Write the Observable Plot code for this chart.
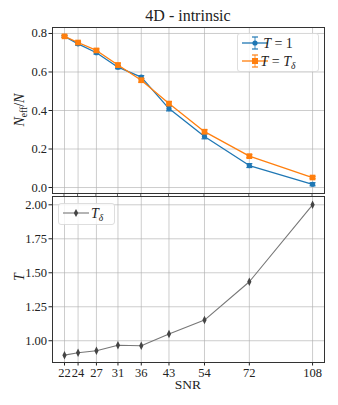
<!DOCTYPE html>
<html>
<head>
<meta charset="utf-8">
<script src="https://cdn.jsdelivr.net/npm/d3@7"></script>
<script src="https://cdn.jsdelivr.net/npm/@observablehq/plot@0.6"></script>
<style>
  html, body { margin: 0; padding: 0; background: white; }
  #wrap { position: relative; width: 338px; height: 405px; }
  #title { position: absolute; left: 52px; width: 272px; top: 7px; text-align: center; font-size: 16px; color: #222; font-family: 'Liberation Serif', serif; }
  .panel { position: absolute; left: 0; }
  svg text { font-family: 'Liberation Serif', serif; }
</style>
</head>
<body>
<div id="wrap">
  <div id="title">4D - intrinsic</div>
  <div id="top" class="panel" style="top:0px"></div>
  <div id="bot" class="panel" style="top:195px"></div>
</div>
<script>
const snr = [22, 24, 27, 31, 36, 43, 54, 72, 108];
const neffT1 = [0.785, 0.746, 0.700, 0.625, 0.573, 0.410, 0.265, 0.114, 0.017];
const errT1 = [0.005, 0.007, 0.007, 0.008, 0.008, 0.012, 0.012, 0.010, 0.008];
const neffTd = [0.785, 0.753, 0.712, 0.636, 0.557, 0.436, 0.290, 0.163, 0.052];
const errTd = [0.005, 0.006, 0.008, 0.010, 0.010, 0.010, 0.010, 0.008, 0.006];
const tDelta = [0.894, 0.912, 0.926, 0.967, 0.963, 1.049, 1.152, 1.434, 2.000];
const yTicksTop = [0.0, 0.2, 0.4, 0.6, 0.8];
const yTicksBot = [1.00, 1.25, 1.50, 1.75, 2.00];

const blue = "#1f77b4", orange = "#ff7f0e";
const font = "'Liberation Serif', serif";
const xDomain = [20.37, 116.6];

const s1 = snr.map((x, i) => ({x, y: neffT1[i], e: errT1[i]}));
const s2 = snr.map((x, i) => ({x, y: neffTd[i], e: errTd[i]}));
const s3 = snr.map((x, i) => ({x, y: tDelta[i]}));

const grid = "#b0b0b0";

function caps(data, color) {
  const out = [];
  for (const sign of [-1, 1]) {
    out.push(Plot.dot(data, {x: "x", y: d => d.y + sign * d.e, symbol: {draw(ctx, size){ ctx.moveTo(-3,0); ctx.lineTo(3,0);} }, r: 3, stroke: color, strokeWidth: 1.2, fill: "none"}));
  }
  return out;
}

const topPlot = Plot.plot({
  width: 338, height: 196,
  marginLeft: 52, marginRight: 14, marginTop: 27, marginBottom: 3,
  style: {fontFamily: font, fontSize: "12.5px", background: "transparent", color: "#222"},
  x: {type: "log", domain: xDomain, axis: null},
  y: {domain: [-0.031, 0.831], ticks: yTicksTop, tickFormat: d3.format(".1f"), tickSize: 3.5, tickPadding: 2, label: null},
  marks: [
    Plot.ruleX(snr, {stroke: grid, strokeWidth: 0.8, strokeOpacity: 0.8}),
    Plot.ruleY(yTicksTop, {stroke: grid, strokeWidth: 0.8, strokeOpacity: 0.8}),
    Plot.tickX(snr, {x: d => d, stroke: "#333", strokeWidth: 0.8, render(i, s, v, d) {
      const g = d3.create("svg:g");
      for (const k of i) {
        const px = s.x(v.channels.x.value[k]);
        g.append("line").attr("x1", px).attr("x2", px).attr("y1", d.height - d.marginBottom).attr("y2", d.height).attr("stroke", "#333").attr("stroke-width", 0.8);
      }
      return g.node();
    }}),
    Plot.line(s1, {x: "x", y: "y", stroke: blue, strokeWidth: 1.3}),
    Plot.ruleX(s1, {x: "x", y1: d => d.y - d.e, y2: d => d.y + d.e, stroke: blue, strokeOpacity: 0.7, strokeWidth: 1.2}),
    ...caps(s1, blue),
    Plot.dot(s1, {x: "x", y: "y", r: 2.6, fill: blue, symbol: "circle"}),
    Plot.line(s2, {x: "x", y: "y", stroke: orange, strokeWidth: 1.3}),
    Plot.ruleX(s2, {x: "x", y1: d => d.y - d.e, y2: d => d.y + d.e, stroke: orange, strokeOpacity: 0.7, strokeWidth: 1.2}),
    ...caps(s2, orange),
    Plot.dot(s2, {x: "x", y: "y", r: 3.2, fill: orange, symbol: "square"}),
    Plot.frame({stroke: "#333", strokeWidth: 1})
  ]
});

const botPlot = Plot.plot({
  width: 338, height: 210,
  marginLeft: 52, marginRight: 14, marginTop: 1, marginBottom: 43,
  style: {fontFamily: font, fontSize: "12.5px", background: "transparent", color: "#222"},
  x: {type: "log", domain: xDomain, ticks: snr, tickFormat: d => String(d), tickSize: 3.5, tickPadding: 2, label: null},
  y: {domain: [0.84, 2.061], ticks: yTicksBot, tickFormat: d3.format(".2f"), tickSize: 3.5, tickPadding: 2, label: null},
  marks: [
    Plot.ruleX(snr, {stroke: grid, strokeWidth: 0.8, strokeOpacity: 0.8}),
    Plot.ruleY(yTicksBot, {stroke: grid, strokeWidth: 0.8, strokeOpacity: 0.8}),
    Plot.line(s3, {x: "x", y: "y", stroke: "#777", strokeWidth: 1.1}),
    Plot.dot(s3, {x: "x", y: "y", r: 2.6, fill: "#444", symbol: {draw(ctx, size){ const r = Math.sqrt(size)/1.3; ctx.moveTo(0,-r*1.2); ctx.lineTo(r*0.6,0); ctx.lineTo(0,r*1.2); ctx.lineTo(-r*0.6,0); ctx.closePath(); }}}),
    Plot.frame({stroke: "#333", strokeWidth: 1})
  ]
});

document.getElementById("top").appendChild(topPlot);
document.getElementById("bot").appendChild(botPlot);

// axis labels
const ts = d3.select(topPlot);
const yl = ts.append("text").attr("transform", "translate(24,110) rotate(-90)")
  .attr("text-anchor", "middle").attr("font-size", 14).attr("fill", "#222");
yl.append("tspan").attr("font-style", "italic").text("N");
yl.append("tspan").attr("font-size", 9.5).attr("dy", 3).text("eff");
yl.append("tspan").attr("dy", -3).text("/");
yl.append("tspan").attr("font-style", "italic").text("N");

const bs = d3.select(botPlot);
bs.append("text").attr("transform", "translate(24,82) rotate(-90)")
  .attr("text-anchor", "middle").attr("font-size", 14).attr("font-style", "italic").attr("fill", "#222").text("T");
bs.append("text").attr("x", 188).attr("y", 194).attr("text-anchor", "middle")
  .attr("font-size", 13.5).attr("fill", "#222").text("SNR");

// legends
function legendBox(sel, x, y, w, h) {
  sel.append("rect").attr("x", x).attr("y", y).attr("width", w).attr("height", h).attr("rx", 2.5)
    .attr("fill", "white").attr("fill-opacity", 0.8).attr("stroke", "#d5d5d5").attr("stroke-width", 0.8);
}
legendBox(ts, 237.5, 33.5, 81, 38);
function errEntry(sel, y, color, square) {
  sel.append("line").attr("x1", 242).attr("x2", 268).attr("y1", y).attr("y2", y).attr("stroke", color).attr("stroke-width", 1.3);
  sel.append("line").attr("x1", 255).attr("x2", 255).attr("y1", y - 6).attr("y2", y + 6).attr("stroke", color).attr("stroke-opacity", 0.7).attr("stroke-width", 1.2);
  sel.append("line").attr("x1", 252).attr("x2", 258).attr("y1", y - 6).attr("y2", y - 6).attr("stroke", color).attr("stroke-width", 1.2);
  sel.append("line").attr("x1", 252).attr("x2", 258).attr("y1", y + 6).attr("y2", y + 6).attr("stroke", color).attr("stroke-width", 1.2);
  if (square) sel.append("rect").attr("x", 252).attr("y", y - 3).attr("width", 6).attr("height", 6).attr("fill", color);
  else sel.append("circle").attr("cx", 255).attr("cy", y).attr("r", 2.6).attr("fill", color);
}
errEntry(ts, 43, blue, false);
errEntry(ts, 61, orange, true);
function legText(sel, x, y) {
  return sel.append("text").attr("x", x).attr("y", y).attr("dy", "0.35em").attr("font-size", 14).attr("fill", "#222");
}
let t1 = legText(ts, 278, 43);
t1.append("tspan").attr("font-style", "italic").text("T");
t1.append("tspan").text(" = 1");
let t2 = legText(ts, 278, 61);
t2.append("tspan").attr("font-style", "italic").text("T");
t2.append("tspan").text(" = ");
t2.append("tspan").attr("font-style", "italic").text("T");
t2.append("tspan").attr("font-style", "italic").attr("font-size", 9.5).attr("dy", 3).text("δ");

legendBox(bs, 58.5, 8.5, 56, 21);
bs.append("line").attr("x1", 63).attr("x2", 89).attr("y1", 18).attr("y2", 18).attr("stroke", "#777").attr("stroke-width", 1.1);
bs.append("path").attr("d", "M76,14 L78.2,18 L76,22 L73.8,18 Z").attr("fill", "#444");
let t3 = legText(bs, 97, 18);
t3.append("tspan").attr("font-style", "italic").text("T");
t3.append("tspan").attr("font-style", "italic").attr("font-size", 9.5).attr("dy", 3).text("δ");
</script>
</body>
</html>
